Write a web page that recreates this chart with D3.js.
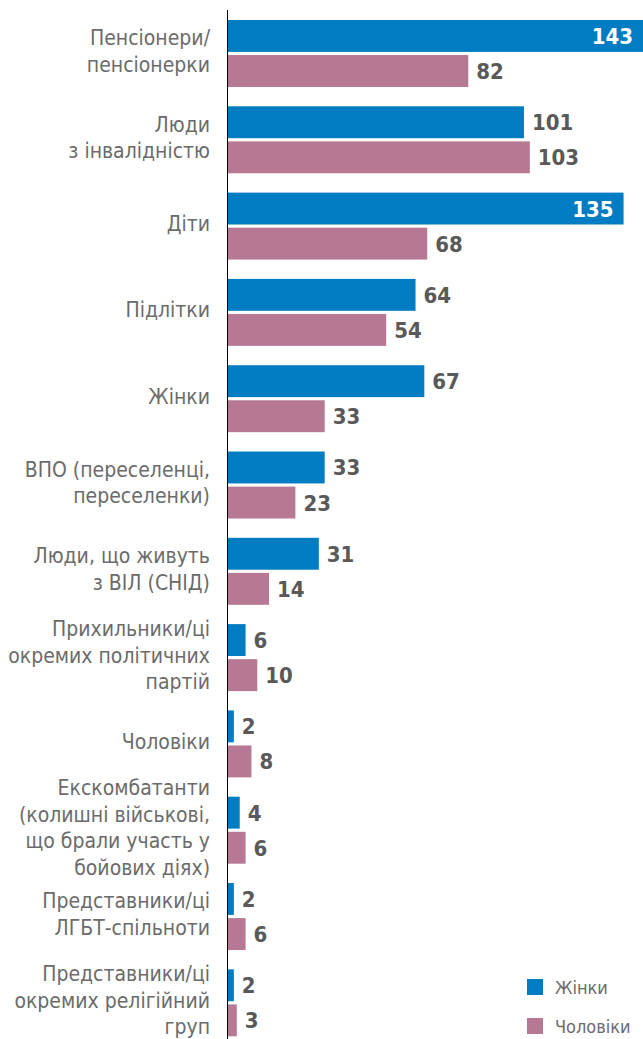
<!DOCTYPE html>
<html>
<head>
<meta charset="utf-8">
<script src="https://cdn.jsdelivr.net/npm/d3@7"></script>
<style>
  body { margin: 0; background: #fff; }
  text { font-family: "DejaVu Sans Condensed", "Liberation Sans Narrow", "Roboto", sans-serif; }
</style>
</head>
<body>
<script>
const width = 643
const height = 1039

const categories = [
    ["Пенсіонери/", "пенсіонерки"],
    ["Люди", "з інвалідністю"],
    ["Діти"],
    ["Підлітки"],
    ["Жінки"],
    ["ВПО (переселенці,", "переселенки)"],
    ["Люди, що живуть", "з ВІЛ (СНІД)"],
    ["Прихильники/ці", "окремих політичних", "партій"],
    ["Чоловіки"],
    ["Екскомбатанти", "(колишні військові,", "що брали участь у", "бойових діях)"],
    ["Представники/ці", "ЛГБТ-спільноти"],
    ["Представники/ці", "окремих релігійний", "груп"]
]
const series = ["Жінки", "Чоловіки"]
const women = [143, 101, 135, 64, 67, 33, 31, 6, 2, 4, 2, 2]
const men = [82, 103, 68, 54, 33, 23, 14, 10, 8, 6, 6, 3]
const colors = ["#007cc3", "#b77894"]

const axisX = 228
const labelGray = "#6b6b6b"
const valueGray = "#595959"

const svg = d3.select("body")
    .append("svg")
    .attr("width", width)
    .attr("height", height)

const keys = categories.map((c, i) => i)
const x = d3.scaleLinear().domain([0, 143]).range([axisX, 647])
const y = d3.scaleBand().domain(keys).range([20, 1036.3]).paddingInner(0.224)
const ys = d3.scaleBand().domain(series).range([0, y.bandwidth()]).paddingInner(0.09)
const color = d3.scaleOrdinal().domain(series).range(colors)

const rows = []
keys.forEach(i => {
    rows.push({cat: i, s: series[0], v: women[i]})
    rows.push({cat: i, s: series[1], v: men[i]})
})

// bars
svg.selectAll("rect.bar")
    .data(rows)
    .join("rect")
    .attr("class", "bar")
    .attr("x", x(0))
    .attr("y", d => y(d.cat) + ys(d.s))
    .attr("width", d => x(d.v) - x(0))
    .attr("height", ys.bandwidth())
    .attr("fill", d => color(d.s))

// value labels, the longest bars get them inside in white
svg.selectAll("text.val")
    .data(rows)
    .join("text")
    .attr("class", "val")
    .attr("x", d => d.v > 130 ? Math.min(x(d.v), width) - 10 : x(d.v) + 8)
    .attr("y", d => y(d.cat) + ys(d.s) + ys.bandwidth() / 2 + 8)
    .attr("text-anchor", d => d.v > 130 ? "end" : "start")
    .attr("fill", d => d.v > 130 ? "#fff" : valueGray)
    .style("font-size", "22px")
    .style("font-weight", "bold")
    .text(d => d.v)

// axis line
svg.append("line")
    .attr("x1", axisX - 0.5)
    .attr("x2", axisX - 0.5)
    .attr("y1", 10)
    .attr("y2", height)
    .attr("stroke", "#000")
    .attr("stroke-width", 1)

// category labels
const lineH = 26.5
const labels = svg.selectAll("text.cat")
    .data(keys)
    .join("text")
    .attr("class", "cat")
    .attr("text-anchor", "end")
    .attr("fill", labelGray)
    .style("font-size", "21px")
labels.each(function(i) {
    const lines = categories[i]
    const mid = y(i) + y.bandwidth() / 2
    d3.select(this).selectAll("tspan")
        .data(lines)
        .join("tspan")
        .attr("x", 210)
        .attr("y", (l, j) => mid + (j - (lines.length - 1) / 2) * lineH + 5)
        .text(l => l)
})

// legend
const legend = svg.selectAll("g.leg")
    .data(series)
    .join("g")
    .attr("class", "leg")
    .attr("transform", (d, i) => `translate(527, ${979 + i * 39})`)
legend.append("rect")
    .attr("width", 16)
    .attr("height", 16)
    .attr("fill", d => color(d))
legend.append("text")
    .attr("x", 28)
    .attr("y", 15)
    .attr("fill", labelGray)
    .style("font-size", "18px")
    .text(d => d)
</script>
</body>
</html>
